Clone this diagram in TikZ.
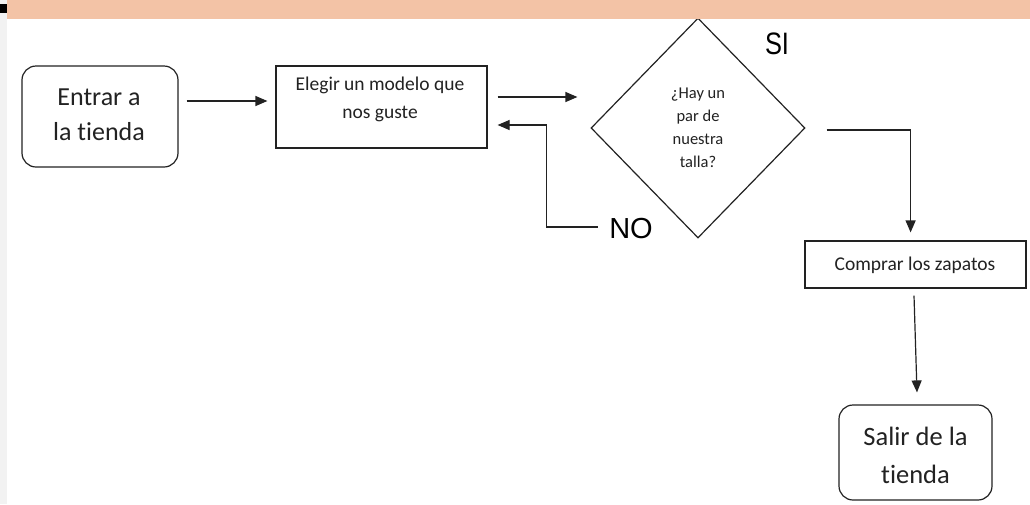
\documentclass[tikz,border=0pt]{standalone}
\usepackage{fontspec}
\setmainfont{Carlito}[Ligatures=NoCommon]
\newfontfamily\arialf{Liberation Sans}
\usetikzlibrary{arrows.meta,shapes.geometric,calc}
\definecolor{peach}{HTML}{F3C3A6}
\definecolor{strip}{HTML}{F2F2F2}
\definecolor{ink}{HTML}{222222}
\begin{document}
\begin{tikzpicture}[x=1pt,y=-1pt,
  line width=1.2pt, draw=ink,
  arr/.style={-{Triangle[length=12pt,width=10pt]}},
  rbox/.style={draw=ink, rounded corners=14pt, inner sep=0pt},
  sbox/.style={draw=ink, inner sep=0pt},
  dia/.style={draw=ink, shape=diamond, inner sep=0pt, minimum width=214pt, minimum height=220pt},
  txt/.style={text=ink, inner sep=0pt, align=center},
  big/.style={font=\arialf\fontsize{29}{29}\selectfont, text=black, inner sep=0pt}]
\useasboundingbox (0,0) rectangle (1030,504);
\fill[white] (0,0) rectangle (1030,504);
\fill[strip] (0,0) rectangle (7,504);
% nodes
\node[rbox, minimum width=156pt, minimum height=101pt] (entrar) at (100,116.5) {};
\node[txt, font=\fontsize{26}{35}\selectfont] (tentrar) at (99,114.5) {Entrar a\\la tienda};
\node[sbox, minimum width=211pt, minimum height=82pt] (elegir) at (381.5,107) {};
\node[txt, font=\fontsize{19.5}{28}\selectfont] (telegir) at (380,99) {Elegir un modelo que\\nos guste};
\node[dia] (talla) at (698,128) {};
\node[txt, font=\fontsize{16.5}{23}\selectfont] (ttalla) at (698,128) {¿Hay un\\par de\\nuestra\\talla?};
\node[sbox, minimum width=221pt, minimum height=47pt] (comprar) at (915.5,264.5) {};
\node[txt, font=\fontsize{19.5}{20}\selectfont] (tcomprar) at (915,265) {Comprar los zapatos};
\node[rbox, minimum width=153pt, minimum height=95pt] (salir) at (915.5,452.5) {};
\node[txt, font=\fontsize{26.5}{38}\selectfont] (tsalir) at (915.5,455) {Salir de la\\tienda};
\node[big, font=\arialf\fontsize{31}{31}\selectfont, xscale=0.82] (si) at (777,44) {SI};
\node[big] (no) at (631,229) {NO};
% connectors
\draw[arr] ([shift={(8,-15.5)}]entrar.east) -- ([shift={(-8,-6)}]elegir.west);
\draw[arr] ([shift={(10,-10)}]elegir.east) -- ([shift={(-13,-31)}]talla.west);
\coordinate (nostart) at ([shift={(-11,-2)}]no.west);
\draw[arr] (nostart) -| ([shift={(59,18)}]elegir.east) -- ([shift={(10,18)}]elegir.east);
\coordinate (sistart) at ([shift={(21,2)}]talla.east);
\coordinate (comprartop) at ([shift={(0,-8)}]comprar.north);
\draw[arr] (sistart) -- ++(84,0) coordinate (sicorner) -- (sicorner |- comprartop);
\draw[arr] ([shift={(-1.5,7)}]comprar.south) -- ([shift={(1.5,-12)}]salir.north);
% top band
\fill[peach] (7,0) rectangle (1030,19);
\fill[black] (0,4) rectangle (7,13);
\end{tikzpicture}
\end{document}
